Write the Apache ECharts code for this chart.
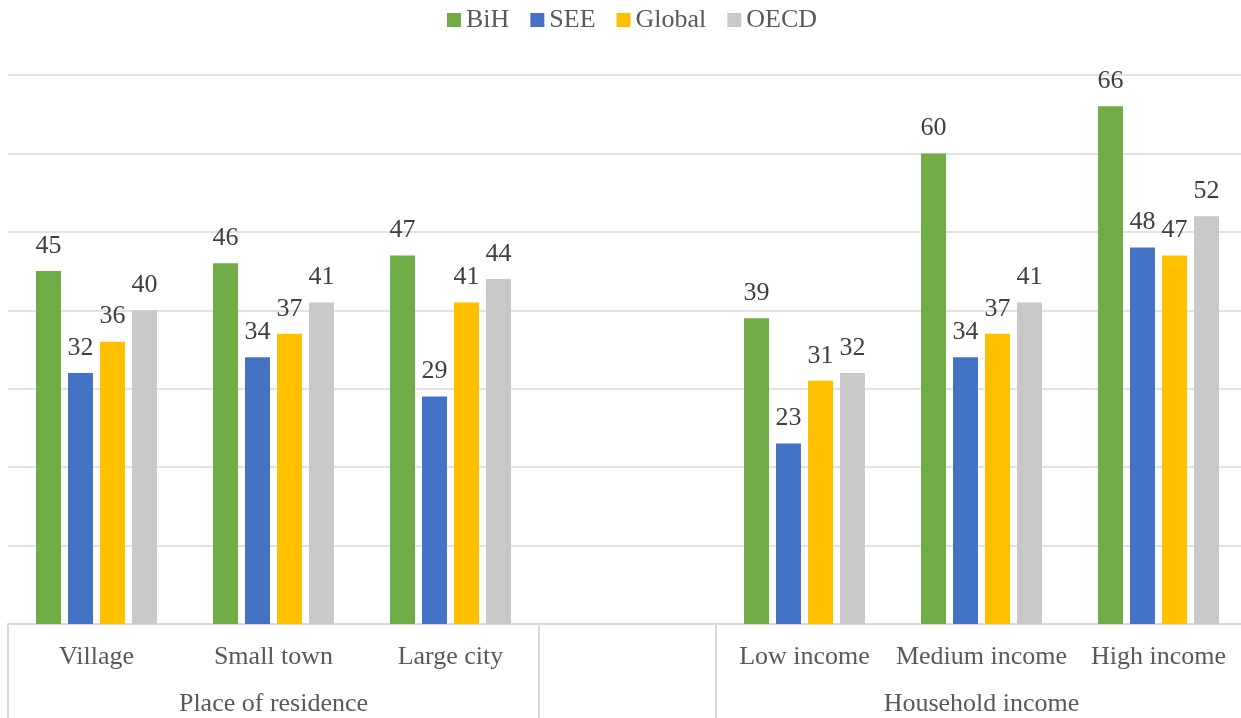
<!DOCTYPE html>
<html>
<head>
<meta charset="utf-8">
<script src="https://cdn.jsdelivr.net/npm/echarts@6/dist/echarts.min.js"></script>
<style>
  html, body { margin: 0; padding: 0; background: #ffffff; }
  #chart { width: 1241px; height: 718px; }
</style>
</head>
<body>
<div id="chart"></div>
<script>
// Categories along the bottom, with a blank slot separating the two groups
const categories = ['Village', 'Small town', 'Large city', '', 'Low income', 'Medium income', 'High income'];
// Second-level group names, placed under the middle category of each group
const groupLabels = ['', 'Place of residence', '', '', '', 'Household income', ''];
// Category indices where a group starts (separator lines are drawn there)
const groupStarts = [0, 3, 4];

const seriesNames = ['BiH', 'SEE', 'Global', 'OECD'];
const bihValues    = [45, 46, 47, null, 39, 60, 66];
const seeValues    = [32, 34, 29, null, 23, 34, 48];
const globalValues = [36, 37, 41, null, 31, 37, 47];
const oecdValues   = [40, 41, 44, null, 32, 41, 52];

const colors = ['#70AD47', '#4472C4', '#FFC000', '#C9C9C9'];
const serif = "'Liberation Serif', 'Times New Roman', serif";

const chart = echarts.init(document.getElementById('chart'), null, { renderer: 'canvas' });

function barSeries(name, values, color) {
  return {
    name: name,
    type: 'bar',
    xAxisIndex: 0,
    data: values,
    barWidth: 25,
    barGap: '28%',
    itemStyle: { color: color },
    label: {
      show: true,
      position: 'top',
      distance: 12,
      color: '#404040',
      fontFamily: serif,
      fontSize: 26
    }
  };
}

const option = {
  animation: false,
  backgroundColor: '#ffffff',
  color: colors,
  legend: {
    data: seriesNames,
    left: 442,
    top: 2,
    icon: 'rect',
    itemWidth: 14,
    itemHeight: 14,
    itemGap: 21,
    textStyle: { color: '#595959', fontFamily: serif, fontSize: 26 }
  },
  grid: { left: 8, top: 75, width: 1239, height: 549, outerBoundsMode: 'none', containLabel: false },
  xAxis: [
    {
      type: 'category',
      data: categories,
      position: 'bottom',
      axisLine: { show: true, lineStyle: { color: '#D9D9D9', width: 2 } },
      axisTick: {
        show: true,
        interval: function (index) { return groupStarts.indexOf(index) !== -1; },
        length: 100,
        lineStyle: { color: '#D9D9D9', width: 2 }
      },
      axisLabel: {
        interval: 0,
        margin: 20,
        color: '#595959',
        fontFamily: serif,
        fontSize: 26
      },
      splitLine: { show: false }
    },
    {
      type: 'category',
      data: categories,
      position: 'bottom',
      offset: 47,
      axisLine: { show: false },
      axisTick: { show: false },
      axisLabel: {
        interval: 0,
        margin: 20,
        color: '#595959',
        fontFamily: serif,
        fontSize: 26,
        formatter: function (value, index) { return groupLabels[index]; }
      },
      splitLine: { show: false }
    }
  ],
  yAxis: {
    type: 'value',
    min: 0,
    max: 70,
    interval: 10,
    axisLine: { show: false },
    axisTick: { show: false },
    axisLabel: { show: false },
    splitLine: { show: true, lineStyle: { color: '#D9D9D9', width: 1.5 } }
  },
  series: [
    barSeries(seriesNames[0], bihValues, colors[0]),
    barSeries(seriesNames[1], seeValues, colors[1]),
    barSeries(seriesNames[2], globalValues, colors[2]),
    barSeries(seriesNames[3], oecdValues, colors[3])
  ]
};

chart.setOption(option);
</script>
</body>
</html>
